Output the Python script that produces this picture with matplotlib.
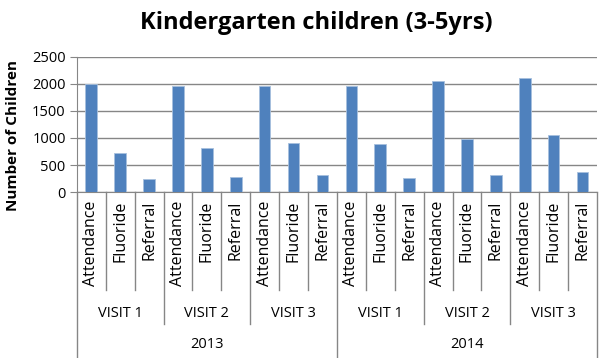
import matplotlib.pyplot as plt
import numpy as np

years = ['2013', '2014']
visits = ['VISIT 1', 'VISIT 2', 'VISIT 3']
measures = ['Attendance', 'Fluoride', 'Referral']

# values per bar, in order year -> visit -> measure
values_2013 = [2000, 720, 240, 1950, 810, 280, 1965, 915, 320]
values_2014 = [1965, 885, 260, 2045, 990, 315, 2105, 1055, 365]
values = values_2013 + values_2014

plt.rcParams['font.family'] = ['Open Sans', 'DejaVu Sans']

fig = plt.figure(figsize=(6, 3.58), dpi=100)
ax = fig.add_axes([0.128, 0.463, 0.867, 0.379])

x = np.arange(len(values))
ax.bar(x, values, width=0.4, color='#4F81BD', edgecolor='#A7C0DE', linewidth=0.6, zorder=3)

ax.set_xlim(-0.5, len(values) - 0.5)
ax.set_ylim(0, 2500)
ax.set_yticks(np.arange(0, 2501, 500))
ax.tick_params(axis='y', labelsize=10.5, length=5, color='#868686', pad=3)
ax.yaxis.grid(True, color='#868686', linewidth=1, zorder=0)
ax.set_xticks([])
for side in ['top', 'right']:
    ax.spines[side].set_visible(False)
ax.spines['left'].set_color('#868686')
ax.spines['bottom'].set_color('#868686')
ax.set_ylabel('Number of Children', fontsize=11, fontweight='bold', labelpad=4)
ax.yaxis.set_label_coords(-0.11, 0.42)

fig.text(0.528, 0.935, 'Kindergarten children (3-5yrs)', ha='center', va='center',
         fontsize=17, fontweight='bold')

# multi level category axis
trans = ax.get_xaxis_transform()
n = len(values)
for i in range(n + 1):
    b = i - 0.5
    if i % 9 == 0:
        y_end = -1.25
    elif i % 3 == 0:
        y_end = -0.97
    else:
        y_end = -0.72
    ax.plot([b, b], [0, y_end], transform=trans, color='#868686', linewidth=1, clip_on=False)

for i in range(n):
    ax.text(i, -0.065, measures[i % 3], transform=trans, rotation=90, ha='center', va='top',
            fontsize=11.5)

for j in range(len(years) * len(visits)):
    ax.text(3 * j + 1, -0.89, visits[j % 3], transform=trans, ha='center', va='center',
            fontsize=10.5)

for k in range(len(years)):
    ax.text(9 * k + 4, -1.125, years[k], transform=trans, ha='center', va='center',
            fontsize=10.5)

fig.savefig('out.png', dpi=100)
